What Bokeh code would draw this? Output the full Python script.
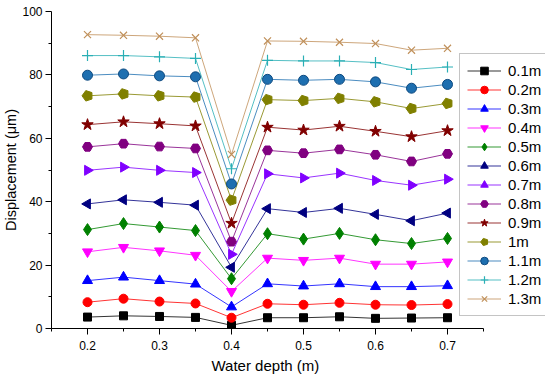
import numpy as np
from bokeh.plotting import figure
from bokeh.models import Range1d, FixedTicker, Legend, LegendItem, ColumnDataSource, Title
from bokeh.embed import file_html
from bokeh.resources import INLINE

depth = [0.2, 0.25, 0.3, 0.35, 0.4, 0.45, 0.5, 0.55, 0.6, 0.65, 0.7]
names = ["0.1m", "0.2m", "0.3m", "0.4m", "0.5m", "0.6m", "0.7m", "0.8m", "0.9m", "1m", "1.1m", "1.2m", "1.3m"]

d01 = [3.6, 4.0, 3.8, 3.5, 1.0, 3.4, 3.4, 3.7, 3.2, 3.3, 3.4]
d02 = [8.3, 9.4, 8.5, 7.9, 3.4, 7.8, 7.5, 8.1, 7.5, 7.4, 7.7]
d03 = [15.1, 16.2, 15.1, 14.0, 6.8, 14.1, 13.4, 14.1, 13.2, 13.2, 13.5]
d04 = [24.2, 25.6, 24.5, 23.1, 11.7, 22.2, 21.5, 22.2, 20.3, 20.3, 21.0]
d05 = [31.2, 33.1, 32.0, 30.9, 15.7, 29.9, 28.2, 30.0, 28.0, 26.8, 28.4]
d06 = [39.3, 40.6, 39.8, 38.9, 19.3, 37.8, 36.6, 37.9, 36.0, 34.0, 36.4]
d07 = [49.9, 50.9, 49.9, 49.2, 23.4, 48.8, 47.5, 49.0, 46.7, 45.2, 47.1]
d08 = [57.3, 58.3, 57.4, 56.8, 27.4, 56.2, 55.3, 56.5, 54.8, 52.7, 55.1]
d09 = [64.3, 65.2, 64.6, 63.9, 33.2, 63.5, 62.6, 63.8, 62.2, 60.5, 62.4]
d10 = [73.4, 74.0, 73.4, 73.0, 40.5, 72.2, 71.9, 72.6, 71.5, 69.4, 71.0]
d11 = [79.9, 80.3, 79.7, 79.4, 45.6, 78.6, 78.3, 78.6, 77.8, 75.8, 77.0]
d12 = [86.1, 86.1, 85.7, 85.2, 50.4, 84.6, 84.4, 84.4, 83.9, 81.7, 82.5]
d13 = [92.7, 92.5, 92.2, 91.7, 54.9, 90.7, 90.6, 90.3, 89.9, 87.8, 88.4]
series = [d01, d02, d03, d04, d05, d06, d07, d08, d09, d10, d11, d12, d13]

x_ticks = [0.2, 0.3, 0.4, 0.5, 0.6, 0.7]
x_tick_labels = ["0.2", "0.3", "0.4", "0.5", "0.6", "0.7"]
x_minor = [0.15, 0.25, 0.35, 0.45, 0.55, 0.65, 0.75]
x_axis_bounds = (0.15, 0.75)
y_ticks = [0, 20, 40, 60, 80, 100]
y_minor = [10, 30, 50, 70, 90]
x_title = "Water depth (m)"
y_title = "Displacement (μm)"

colors = ["#000000", "#FF0000", "#0000FF", "#FF00FF", "#008000", "#000080",
          "#8000FF", "#800080", "#800000", "#808000", "#1E6FB0", "#2AAFB5", "#C0905A"]
# (marker, size, angle)
markers = [("square", 8, 0), ("circle", 9, 0), ("triangle", 10, 0), ("inverted_triangle", 10, 0),
           ("diamond", 12, 0), ("triangle", 10, np.pi / 2), ("triangle", 10, -np.pi / 2),
           ("hex", 10, 0), ("star", 12, 0), ("pentagon", 10, 0), ("circle", 10, 0),
           ("cross", 11, 0), ("x", 10, 0)]

FONT = "Liberation Sans"

p = figure(frame_width=494, frame_height=317, output_backend="svg", toolbar_location=None,
           x_range=Range1d(0.15, 0.15 + 494 / 720), y_range=Range1d(0, 100),
           min_border_left=47, min_border_right=0, min_border_top=11, min_border_bottom=48)
p.outline_line_color = None
p.xgrid.visible = False
p.ygrid.visible = False
p.background_fill_color = "white"

for ax in (p.xaxis[0], p.yaxis[0]):
    ax.axis_line_color = "black"
    ax.major_tick_line_color = "black"
    ax.minor_tick_line_color = "black"
    ax.major_tick_out = 6
    ax.major_tick_in = 0
    ax.minor_tick_out = 3
    ax.minor_tick_in = 0
    ax.major_label_text_font = FONT
    ax.major_label_text_font_size = "12px"
    ax.major_label_text_color = "black"
    ax.axis_label_text_font = FONT
    ax.axis_label_text_font_size = "14.5px"
    ax.axis_label_text_font_style = "normal"
    ax.axis_label_text_color = "black"

p.xaxis.ticker = FixedTicker(ticks=x_ticks, minor_ticks=x_minor)
p.xaxis.bounds = x_axis_bounds
p.xaxis.major_label_overrides = {t: l for t, l in zip(x_ticks, x_tick_labels)}
p.yaxis.ticker = FixedTicker(ticks=y_ticks, minor_ticks=y_minor)
p.yaxis.axis_label = y_title
p.xaxis.major_label_standoff = 6
p.yaxis.major_label_standoff = 3
p.yaxis.axis_label_standoff = 0

# x-axis title placed under the axis span (the frame is wider to hold the legend)
xt = Title(text=x_title, align="left", offset=160, standoff=4,
           text_font=FONT, text_font_size="15px", text_font_style="normal",
           text_color="black")
p.add_layout(xt, "below")

items = []
for name, vals, col, (mk, sz, ang) in zip(names, series, colors, markers):
    src = ColumnDataSource(dict(x=depth, y=vals))
    ln = p.line("x", "y", source=src, line_color=col, line_width=1, line_alpha=0.8)
    if mk == "pentagon":
        try:
            mr = p.ngon(x="x", y="y", source=src, radius=5.5, radius_units="screen", n=5,
                        angle=np.pi / 2, fill_color=col, line_color=col)
        except Exception:
            mr = p.scatter("x", "y", source=src, marker="hex", size=sz,
                           fill_color=col, line_color=col)
    elif mk in ("cross", "x"):
        mr = p.scatter("x", "y", source=src, marker=mk, size=sz, line_color=col, line_width=1.2)
    elif name == "1.1m":
        mr = p.scatter("x", "y", source=src, marker=mk, size=sz, fill_color=col, line_color="#0E4A80")
    else:
        mr = p.scatter("x", "y", source=src, marker=mk, size=sz, angle=ang,
                       fill_color=col, line_color=col)
    items.append(LegendItem(label=name, renderers=[ln, mr]))

legend = Legend(items=items, location=(408, 12))
legend.label_text_font = FONT
legend.label_text_font_size = "15px"
legend.label_text_color = "black"
legend.glyph_width = 34
legend.glyph_height = 19
legend.label_height = 19
legend.label_standoff = 7
legend.spacing = 0
legend.padding = 7
legend.margin = 0
legend.border_line_color = "#8A8A8A"
legend.border_line_width = 1.5
legend.background_fill_color = "white"
legend.background_fill_alpha = 1
p.add_layout(legend, "center")

open("out.html", "w").write(file_html(p, INLINE))
